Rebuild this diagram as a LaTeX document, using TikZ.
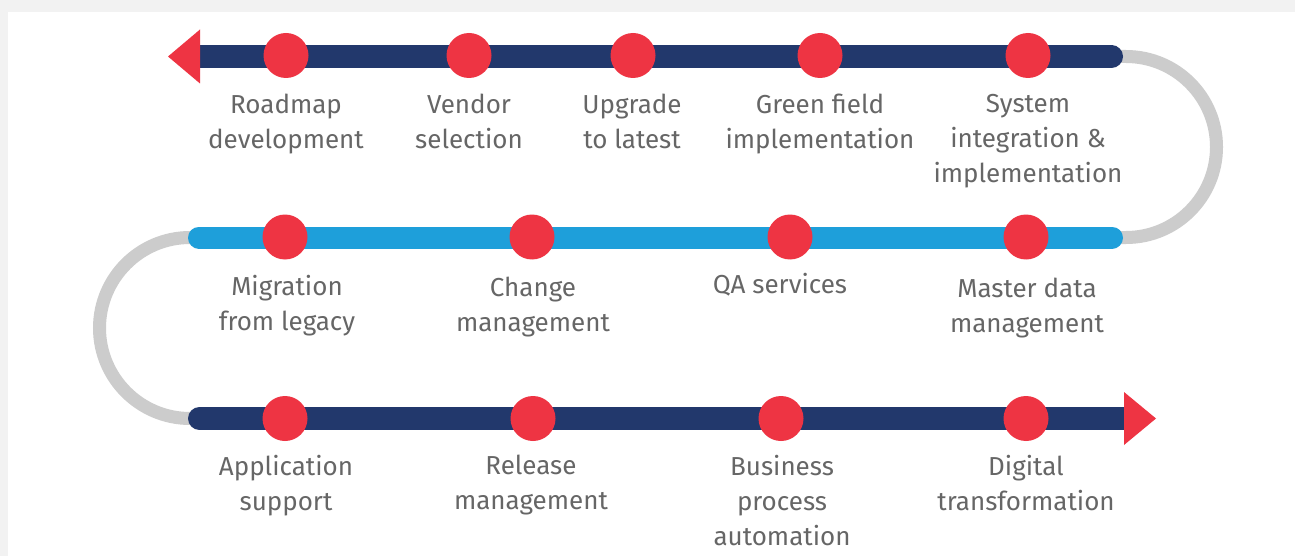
\documentclass[tikz,border=0pt]{standalone}
\usepackage{fontspec}
\setmainfont{Fira Sans}
\definecolor{navy}{HTML}{22386C}
\definecolor{sky}{HTML}{1E9FDA}
\definecolor{dotred}{HTML}{EE3443}
\definecolor{arcgray}{HTML}{CCCCCC}
\definecolor{txtgray}{HTML}{666666}
\definecolor{bggray}{HTML}{F2F2F2}
\tikzset{
  dotnode/.style={circle, fill=dotred, draw=none, minimum size=45pt, inner sep=0},
  lbl/.style={font=\fontsize{26}{35}\selectfont, align=center, text=txtgray, inner sep=0, anchor=north},
  navybar/.style={draw=navy, line width=23pt, line cap=round},
  skybar/.style={draw=sky, line width=22pt, line cap=round},
  grayarc/.style={draw=arcgray, line width=13pt},
  tiphead/.style={fill=dotred, draw=none}
}
\begin{document}
\begin{tikzpicture}[x=1pt,y=-1pt]
\useasboundingbox (0,0) rectangle (1295,556);
\fill[bggray] (0,0) rectangle (1295,556);
\fill[white] (8,12) rectangle (1295,556);
% bar end coordinates
\coordinate (tL) at (200,56.5);
\coordinate (tR) at (1111.5,56.5);
\coordinate (mL) at (199,237.5);
\coordinate (mR) at (1112,237.5);
\coordinate (bL) at (199.5,418.5);
\coordinate (bR) at (1124,418.5);
% gray arcs
\draw[grayarc] (tR) -- (1126,56.5) arc[start angle=-90, end angle=90, radius=90.5] -- (mR);
\draw[grayarc] (mL) -- (190,237.5) arc[start angle=270, end angle=90, radius=90.5] -- (bL);
% bars
\draw[navybar] (tL) -- (tR);
\draw[skybar] (mL) -- (mR);
\draw[navybar] (bL) -- (bR);
% arrow heads
\fill[tiphead] (200,29.5) -- (168,56.5) -- (200,83.5) -- cycle;
\fill[tiphead] (1124,392) -- (1156,418.5) -- (1124,445) -- cycle;
% dots
\node[dotnode] (d1) at (286,55.5) {};
\node[dotnode] (d2) at (469,55.5) {};
\node[dotnode] (d3) at (633,55.5) {};
\node[dotnode] (d4) at (820,55.5) {};
\node[dotnode] (d5) at (1028,55.5) {};
\node[dotnode] (m1) at (285,237) {};
\node[dotnode] (m2) at (532,237) {};
\node[dotnode] (m3) at (790,237) {};
\node[dotnode] (m4) at (1026,237) {};
\node[dotnode] (b1) at (285,418.5) {};
\node[dotnode] (b2) at (533,418.5) {};
\node[dotnode] (b3) at (781,418.5) {};
\node[dotnode] (b4) at (1026,418.5) {};
% labels
\node[lbl] (l1) at (286,94) {Roadmap\\development};
\node[lbl] (l2) at (469,94) {Vendor\\selection};
\node[lbl] (l3) at (632,94) {Upgrade\\to latest};
\node[lbl] (l4) at (820,94) {Green field\\implementation};
\node[lbl] (l5) at (1028,94) {System\\integration \&\\implementation};
\node[lbl] (k1) at (287,275) {Migration\\from legacy};
\node[lbl] (k2) at (533,277) {Change\\management};
\node[lbl] (k3) at (780,273) {QA services};
\node[lbl] (k4) at (1027,278) {Master data\\management};
\node[lbl] (n1) at (286,455) {Application\\support};
\node[lbl] (n2) at (531,455) {Release\\management};
\node[lbl] (n3) at (782,455) {Business\\process\\automation};
\node[lbl] (n4) at (1026,455) {Digital\\transformation};
\end{tikzpicture}
\end{document}
